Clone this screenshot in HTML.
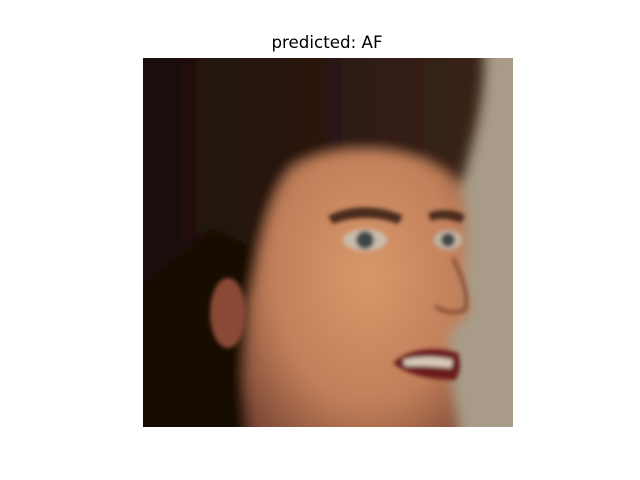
<!DOCTYPE html>
<html><head><meta charset="utf-8"><style>
html,body{margin:0;padding:0;background:#fff;}
#wrap{position:relative;width:640px;height:480px;font-family:"DejaVu Sans","Liberation Sans",sans-serif;}
#title{position:absolute;left:0;width:654px;top:32px;text-align:center;font-size:16.7px;line-height:20px;color:#000;}
svg{position:absolute;left:143px;top:58px;}
</style></head><body>
<div id="wrap">
<div id="title">predicted: AF</div>
<svg width="370" height="369" viewBox="0 0 370 369">
<defs>
<clipPath id="c"><rect width="370" height="369"/></clipPath>
<filter id="b" x="-50%" y="-50%" width="200%" height="200%"><feGaussianBlur stdDeviation="6"/></filter>
<filter id="s" x="-50%" y="-50%" width="200%" height="200%"><feGaussianBlur stdDeviation="2"/></filter>
<linearGradient id="hair" x1="0" y1="0" x2="1" y2="0"><stop offset="0" stop-color="#1a0d08"/><stop offset="0.6" stop-color="#2c1912"/><stop offset="1" stop-color="#3a2419"/></linearGradient>
<radialGradient id="skin" cx="0.55" cy="0.4" r="0.7"><stop offset="0" stop-color="#d9976a"/><stop offset="0.6" stop-color="#c2805a"/><stop offset="1" stop-color="#7a4634"/></radialGradient>
</defs>
<g clip-path="url(#c)">
<rect x="-20" y="-20" width="410" height="410" fill="#a89c88"/>
<g filter="url(#b)">
<path d="M-30 -30 H340 C345 40 330 80 320 120 L300 200 L180 400 H-30 Z" fill="url(#hair)"/>
<path d="M150 110 C200 80 290 90 318 130 C326 160 322 200 320 230 C330 250 324 262 310 270 C300 290 310 330 320 400 H110 C100 330 95 280 110 230 C120 170 130 130 150 110 Z" fill="url(#skin)"/>
<path d="M-30 250 L70 170 L110 190 L95 400 H-30 Z" fill="#140a06"/>
</g>
<g filter="url(#s)">
<ellipse cx="85" cy="255" rx="18" ry="35" fill="#8a4a36"/>
<path d="M185 158 C210 145 240 148 260 158 L255 166 C235 158 210 158 190 166 Z" fill="#4a2a1e"/>
<path d="M285 155 C300 150 315 152 322 158 L318 165 C305 160 295 160 288 163 Z" fill="#4a2a1e"/>
<ellipse cx="222" cy="182" rx="22" ry="11" fill="#c9bcae"/>
<circle cx="222" cy="182" r="9" fill="#3e4744"/>
<ellipse cx="305" cy="182" rx="14" ry="10" fill="#c2b6a8"/>
<circle cx="305" cy="182" r="7" fill="#3e4744"/>
<path d="M310 200 C320 220 326 240 322 252 C312 256 300 254 292 248" fill="none" stroke="#8a5038" stroke-width="4"/>
<path d="M250 305 C265 290 295 288 315 295 C318 305 318 315 312 322 C290 322 265 318 250 305 Z" fill="#6a1a1a"/>
<path d="M260 302 C275 298 295 298 310 302 L308 310 C292 308 275 308 262 308 Z" fill="#d8c9b8"/>
</g>
</g>
</svg>
</div>
</body></html>
